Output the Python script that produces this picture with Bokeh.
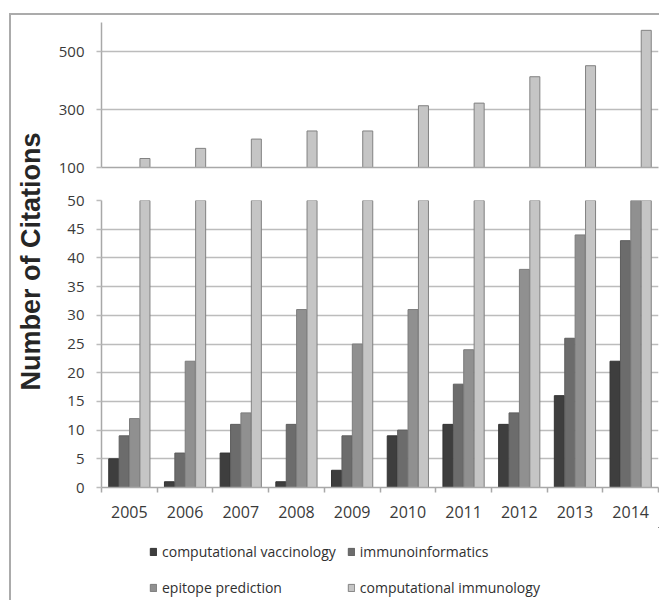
import numpy as np
from bokeh.plotting import figure
from bokeh.models import ColumnDataSource, Range1d, FixedTicker, Legend, LegendItem, Label
from bokeh.layouts import row, column
from bokeh.transform import dodge
from bokeh.embed import file_html
from bokeh.resources import INLINE

# ---------------- data ----------------
years = ["2005", "2006", "2007", "2008", "2009", "2010", "2011", "2012", "2013", "2014"]
computational_vaccinology = [5, 1, 6, 1, 3, 9, 11, 11, 16, 22]
immunoinformatics = [9, 6, 11, 11, 9, 10, 18, 13, 26, 43]
epitope_prediction = [12, 22, 13, 31, 25, 31, 24, 38, 44, 58]
computational_immunology = [131, 166, 198, 226, 226, 313, 322, 413, 451, 573]
series_names = ["computational vaccinology", "immunoinformatics",
                "epitope prediction", "computational immunology"]
top_ticks = [100, 300, 500]
bottom_ticks = [0, 5, 10, 15, 20, 25, 30, 35, 40, 45, 50]

# ---------------- styles ----------------
FONT = "Open Sans"
TICK_COLOR = "#3a3a3a"
GRID = "#bcbcbc"
AXIS = "#a8a8a8"
fills = ["#3e3e3e", "#6c6c6c", "#909090", "#c5c5c5"]
lines = ["#343434", "#5e5e5e", "#7c7c7c", "#828282"]
offsets = [-0.28, -0.093, 0.093, 0.28]
BAR_W = 0.18
FIG_W = 612

n = len(years)
src = ColumnDataSource(dict(
    x=np.arange(n) + 0.5,
    cv=computational_vaccinology,
    ii=immunoinformatics,
    ep=epitope_prediction,
    ci=computational_immunology,
))
keys = ["cv", "ii", "ep", "ci"]


def add_bars(p):
    rs = []
    for k, off, f, l in zip(keys, offsets, fills, lines):
        r = p.vbar(x=dodge("x", off), top=k, bottom=0, width=BAR_W, source=src,
                   fill_color=f, line_color=l, line_width=1)
        rs.append(r)
    return rs


def style_yaxis(p, ticks, size):
    p.yaxis.ticker = FixedTicker(ticks=ticks)
    p.yaxis.major_label_text_font = FONT
    p.yaxis.major_label_text_font_size = size
    p.yaxis.major_label_text_color = TICK_COLOR
    p.yaxis.axis_line_color = AXIS
    p.yaxis.axis_line_width = 1.5
    p.yaxis.major_tick_line_color = GRID
    p.yaxis.major_tick_line_width = 1.5
    p.yaxis.major_tick_out = 5
    p.yaxis.major_tick_in = 0
    p.yaxis.minor_tick_line_color = None
    p.yaxis.major_label_standoff = 12
    p.ygrid.ticker = FixedTicker(ticks=ticks)
    p.ygrid.grid_line_color = GRID
    p.ygrid.grid_line_width = 1.5


# ---------------- top panel (100 - 600) ----------------
top = figure(width=FIG_W, height=167, x_range=Range1d(0, n), y_range=Range1d(100, 600),
             output_backend="svg", toolbar_location=None,
             min_border_left=54, min_border_right=1, min_border_top=7, min_border_bottom=15)
add_bars(top)
style_yaxis(top, top_ticks, "15px")
top.xaxis.ticker = FixedTicker(ticks=[])
top.xaxis.major_label_text_font_size = "0px"
top.xaxis.axis_line_color = AXIS
top.xaxis.axis_line_width = 1.5
top.xaxis.major_tick_line_color = None
top.xaxis.minor_tick_line_color = None
top.xgrid.visible = False
top.outline_line_color = None

# ---------------- bottom panel (0 - 50) ----------------
bot = figure(width=FIG_W, height=345, x_range=Range1d(0, n), y_range=Range1d(0, 50),
             output_backend="svg", toolbar_location=None,
             min_border_left=54, min_border_right=1, min_border_top=18, min_border_bottom=40)
add_bars(bot)
style_yaxis(bot, bottom_ticks, "15px")
centers = [float(i) + 0.5 for i in range(n)]
bounds = [float(i) for i in range(n + 1)]
bot.xaxis.ticker = FixedTicker(ticks=centers, minor_ticks=bounds)
bot.xaxis.major_label_overrides = {c: y for c, y in zip(centers, years)}
bot.xaxis.major_label_text_font = FONT
bot.xaxis.major_label_text_font_size = "16px"
bot.xaxis.major_label_text_color = TICK_COLOR
bot.xaxis.major_tick_line_color = None
bot.xaxis.major_tick_out = 0
bot.xaxis.major_tick_in = 0
bot.xaxis.major_label_standoff = 13
bot.xaxis.minor_tick_line_color = AXIS
bot.xaxis.minor_tick_line_width = 1.5
bot.xaxis.minor_tick_out = 5
bot.xaxis.minor_tick_in = 0
bot.xaxis.axis_line_color = AXIS
bot.xaxis.axis_line_width = 1.5
bot.xgrid.ticker = FixedTicker(ticks=[b - 0.15 for b in bounds[1:]])
bot.xgrid.grid_line_color = GRID
bot.xgrid.grid_line_width = 1.5
bot.outline_line_color = None

# ---------------- legend (own canvas; its bars lie far outside the view) ----------------
leg = figure(width=FIG_W, height=73, x_range=Range1d(-1000, -990), y_range=Range1d(-1000, -999),
             output_backend="svg", toolbar_location=None, min_border=0)
leg.axis.visible = False
leg.grid.visible = False
leg.outline_line_color = None
leg_rs = add_bars(leg)
legend = Legend(items=[LegendItem(label=nm, renderers=[r]) for nm, r in zip(series_names, leg_rs)],
                location=(48, 0), orientation="horizontal", ncols=2,
                padding=0, margin=0, spacing=11, label_standoff=5,
                glyph_width=8, glyph_height=9, label_height=25,
                label_text_font=FONT, label_text_font_size="14px",
                label_text_color="#303030",
                background_fill_alpha=0, border_line_color=None)
leg.add_layout(legend)

# ---------------- y axis title ----------------
ttl = figure(width=36, height=585, x_range=Range1d(0, 36), y_range=Range1d(0, 585),
             output_backend="svg", toolbar_location=None, min_border=0)
ttl.axis.visible = False
ttl.grid.visible = False
ttl.outline_line_color = None
ttl.add_layout(Label(x=19, y=339, x_units="screen", y_units="screen", angle=90,
                     angle_units="deg", text="Number of Citations",
                     text_align="center", text_baseline="middle",
                     text_font="Liberation Sans", text_font_style="bold",
                     text_font_size="27px", text_color="#262626"))

layout = row(ttl, column(top, bot, leg, spacing=0), spacing=0,
             margin=(13, 0, 0, 9),
             styles={"border-top": "2px solid #ababab", "border-left": "2px solid #ababab"})

open("out.html", "w").write(file_html(layout, INLINE))
